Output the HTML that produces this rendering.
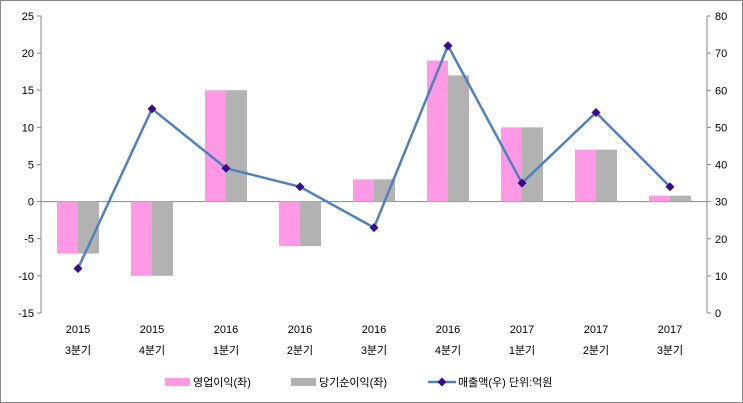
<!DOCTYPE html>
<html><head><meta charset="utf-8"><style>body{margin:0;background:#fff}svg{display:block}text{font-family:"Liberation Sans","Noto Sans CJK KR",sans-serif;font-size:11px;fill:#000}</style></head>
<body>
<svg width="743" height="403" viewBox="0 0 743 403">
<rect x="0.5" y="0.5" width="742" height="402" fill="#fff" stroke="#888"/>
<g id="g"></g>
<script>
const ns="http://www.w3.org/2000/svg",g=document.getElementById("g");
function el(t,a,txt){const e=document.createElementNS(ns,t);for(const k in a)e.setAttribute(k,a[k]);if(txt!==undefined)e.textContent=txt;g.appendChild(e);return e;}
const L=41,R=707,T=16,B=313,Z=201.6,s=7.425,rs=3.7125;
el("line",{x1:L,y1:T,x2:L,y2:B,stroke:"#888"});
el("line",{x1:R,y1:T,x2:R,y2:B,stroke:"#888"});
for(let v=-15;v<=25;v+=5){const y=Z-v*s;el("line",{x1:L-4,y1:y,x2:L,y2:y,stroke:"#888"});el("text",{x:L-7,y:y+4,"text-anchor":"end"},v);}
for(let v=0;v<=80;v+=10){const y=B-v*rs;el("line",{x1:R,y1:y,x2:R+4,y2:y,stroke:"#888"});el("text",{x:R+8,y:y+4},v);}
el("line",{x1:L,y1:Z,x2:R,y2:Z,stroke:"#888"});
const op=[-7,-10,15,-6,3,19,10,7,0.8],net=[-7,-10,15,-6,3,17,10,7,0.8],ln=[12,55,39,34,23,72,35,54,34];
const yr=["2015","2015","2016","2016","2016","2016","2017","2017","2017"],q=["3분기","4분기","1분기","2분기","3분기","4분기","1분기","2분기","3분기"];
let pts=[];
for(let i=0;i<9;i++){const c=L+74*i+37;
const b=(x,v,col)=>{const y=v>=0?Z-v*s:Z;el("rect",{x:x,y:y,width:21,height:Math.abs(v)*s,fill:col});};
b(c-21,op[i],"#FF99E6");b(c,net[i],"#B2B2B2");
el("text",{x:c,y:333,"text-anchor":"middle"},yr[i]);el("text",{x:c,y:354,"text-anchor":"middle"},q[i]);
pts.push([c,B-ln[i]*rs]);}
el("polyline",{points:pts.map(p=>p.join(",")).join(" "),fill:"none",stroke:"#4F81BD","stroke-width":2.5});
pts.forEach(p=>el("polygon",{points:`${p[0]},${p[1]-4.5} ${p[0]+4.5},${p[1]} ${p[0]},${p[1]+4.5} ${p[0]-4.5},${p[1]}`,fill:"#3A0A8C"}));
el("rect",{x:165,y:378,width:25,height:8,fill:"#FF99E6"});el("text",{x:193,y:386},"영업이익(좌)");
el("rect",{x:291,y:378,width:25,height:8,fill:"#B2B2B2"});el("text",{x:319,y:386},"당기순이익(좌)");
el("line",{x1:428,y1:382,x2:456,y2:382,stroke:"#4F81BD","stroke-width":2.5});
el("polygon",{points:"442,377.5 446.5,382 442,386.5 437.5,382",fill:"#3A0A8C"});
el("text",{x:458,y:386},"매출액(우)  단위:억원");
</script>
</svg>
</body></html>
